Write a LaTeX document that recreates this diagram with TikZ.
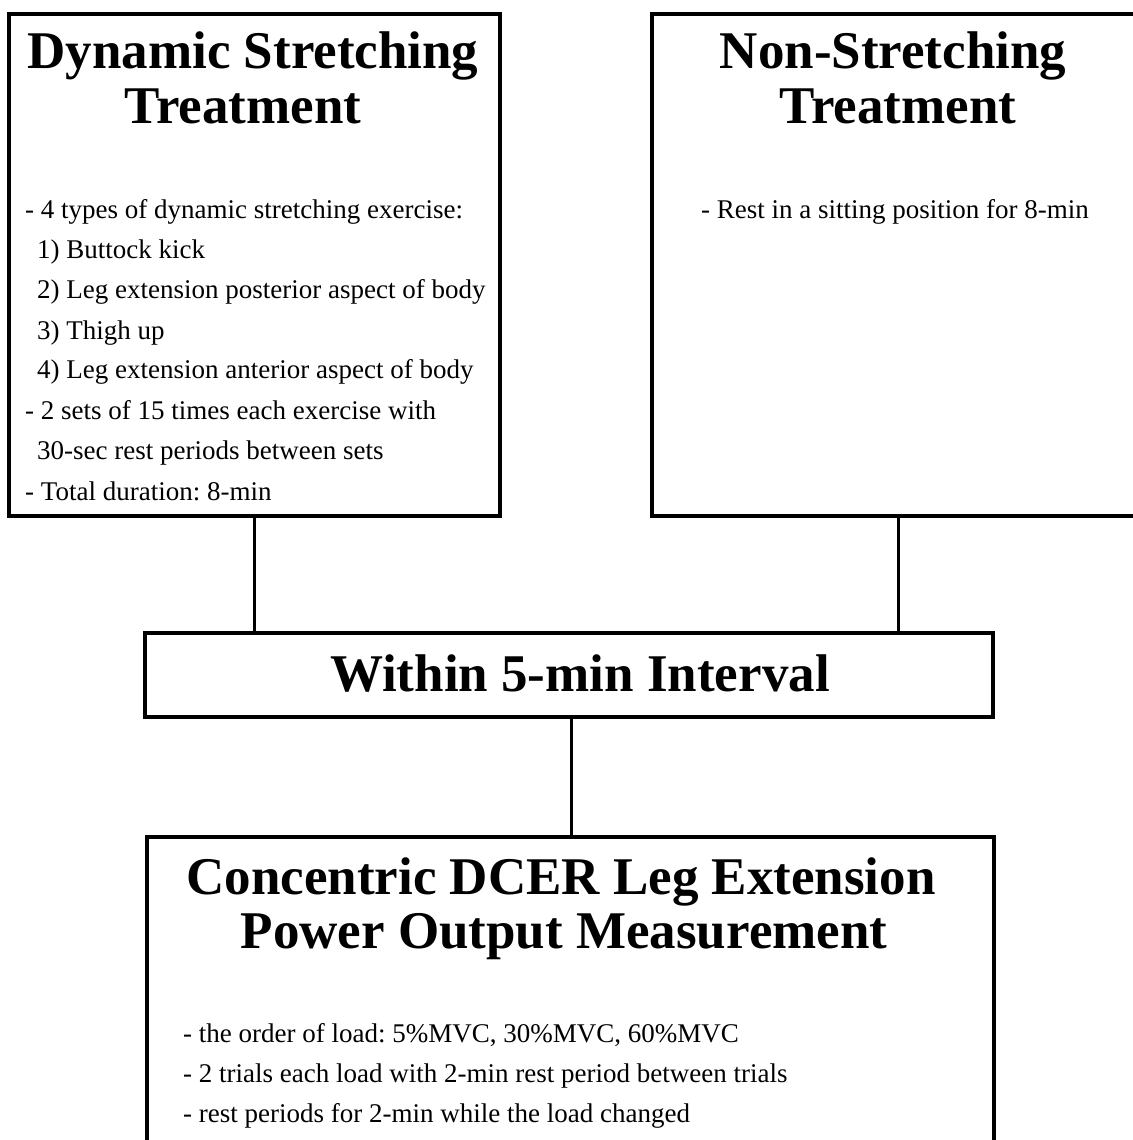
\documentclass[tikz,border=0pt]{standalone}
\usepackage{fontspec}
\setmainfont{Liberation Serif}
\frenchspacing
\begin{document}
\begin{tikzpicture}[x=1pt,y=-1pt,
  box/.style={draw=black, line width=4pt, rectangle, inner sep=0pt, outer sep=0pt, anchor=north west},
  conn/.style={draw=black, line width=3pt},
  ttl/.style={font=\fontsize{53}{54}\selectfont\bfseries, inner sep=0pt, anchor=base},
  bdy/.style={font=\fontsize{27}{40}\selectfont, inner sep=0pt, anchor=base west},
  bdyc/.style={font=\fontsize{27}{40}\selectfont, inner sep=0pt, anchor=base}]
\useasboundingbox (0,0) rectangle (1132,1140);
% boxes
\node[box, minimum width=491pt, minimum height=502pt] (b1) at (9,14) {};
\node[box, minimum width=492pt, minimum height=502pt] (b2) at (652,14) {};
\node[box, minimum width=848pt, minimum height=84pt] (mid) at (145,633) {};
\node[box, minimum width=847pt, minimum height=340pt] (b3) at (147,837) {};
% connectors
\draw[conn] (b1.south) -- (b1.south |- mid.north);
\draw[conn] (b2.south) -- (b2.south |- mid.north);
\draw[conn] ([xshift=2pt]mid.south) -- ([xshift=2pt]mid.south |- b3.north);
% box 1
\node[ttl] (t1a) at (253,69) {Dynamic Stretching};
\node[ttl] (t1b) at (243,123) {Treatment};
\node[bdy] (l1) at (25,218) {- 4 types of dynamic stretching exercise:};
\node[bdy] (l2) at (37,258) {1) Buttock kick};
\node[bdy] (l3) at (37,298) {2) Leg extension posterior aspect of body};
\node[bdy] (l4) at (37,339) {3) Thigh up};
\node[bdy] (l5) at (37,378) {4) Leg extension anterior aspect of body};
\node[bdy] (l6) at (25,419) {- 2 sets of 15 times each exercise with};
\node[bdy] (l7) at (37,459) {30-sec rest periods between sets};
\node[bdy] (l8) at (25,500) {- Total duration: 8-min};
% box 2
\node[ttl] (t2a) at (893,69) {Non-Stretching};
\node[ttl] (t2b) at (898,123) {Treatment};
\node[bdyc] (r1) at (895,218) {- Rest in a sitting position for 8-min};
% middle
\node[ttl] (tm) at (580,691) {Within 5-min Interval};
% box 3
\node[ttl] (t3a) at (561,894) {Concentric DCER Leg Extension};
\node[ttl] (t3b) at (564,948) {Power Output Measurement};
\node[bdy] (m1) at (183,1042) {- the order of load: 5\%MVC, 30\%MVC, 60\%MVC};
\node[bdy] (m2) at (183,1082) {- 2 trials each load with 2-min rest period between trials};
\node[bdy] (m3) at (183,1122) {- rest periods for 2-min while the load changed};
\end{tikzpicture}
\end{document}
